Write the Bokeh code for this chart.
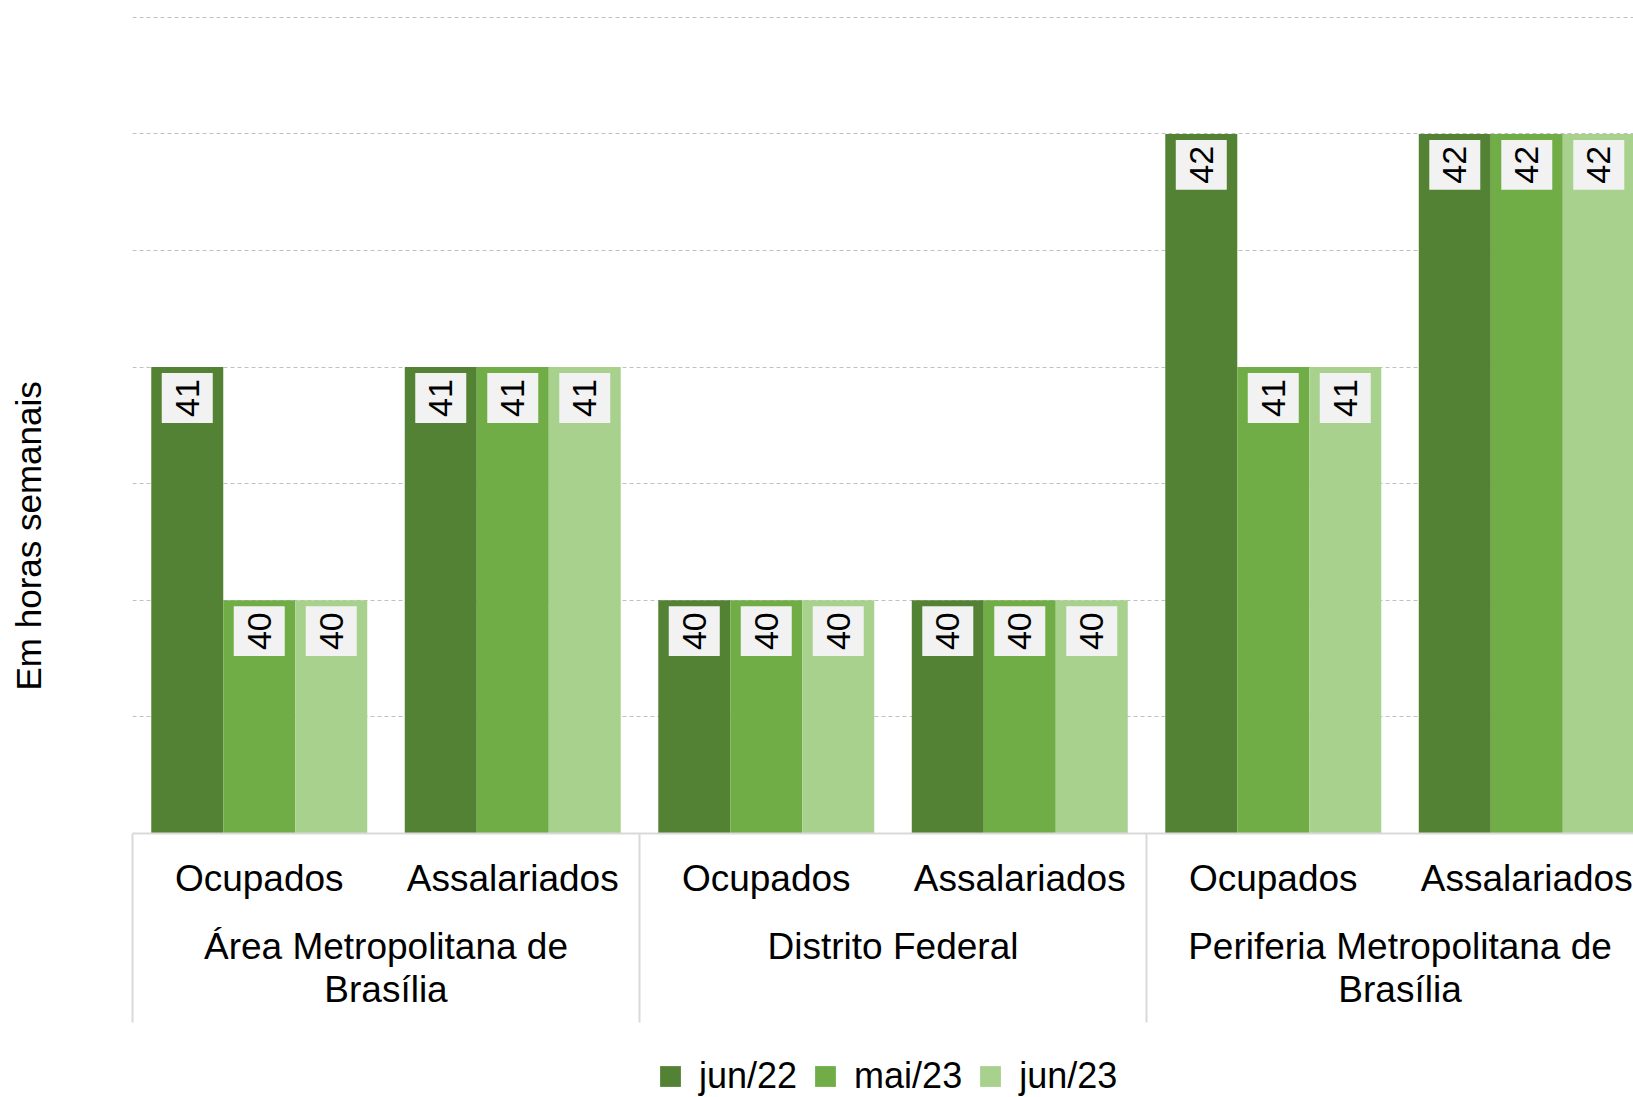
import numpy as np
from bokeh.plotting import figure
from bokeh.layouts import column
from bokeh.models import (Range1d, FixedTicker, LinearAxis, Legend, LegendItem,
                          ColumnDataSource, Grid, Title)
from bokeh.core.properties import value
from bokeh.embed import file_html
from bokeh.resources import INLINE

# ---- data ----
regions = ["Área Metropolitana de Brasília", "Distrito Federal",
           "Periferia Metropolitana de Brasília"]
groups = ["Ocupados", "Assalariados"]
series = ["jun/22", "mai/23", "jun/23"]
jun22 = [41, 41, 40, 40, 42, 42]
mai23 = [40, 41, 40, 40, 41, 42]
jun23 = [40, 41, 40, 40, 41, 42]
y_ticks = [39.5, 40, 40.5, 41, 41.5, 42, 42.5]
y_title = "Em horas semanais"
colors = ["#548235", "#70AD47", "#A9D18E"]

FONT = "Liberation Sans"
values = [jun22, mai23, jun23]
n_cat = len(regions) * len(groups)
cat_x = [i + 0.5 for i in range(n_cat)]
bar_w = 0.284
offsets = [-bar_w, 0.0, bar_w]
y_base = 39

p = figure(width=1633, height=1040, output_backend="svg", toolbar_location=None,
           x_range=Range1d(0, 5.921), y_range=Range1d(y_base, 42.572),
           x_axis_type=None, y_axis_type=None,
           min_border_left=132, min_border_right=0, min_border_top=0,
           min_border_bottom=207)
p.outline_line_color = None

# y axis (no visible ticks) + grid + title on the left
yticker = FixedTicker(ticks=y_ticks, minor_ticks=[])
yaxis = LinearAxis(ticker=yticker, axis_line_color=None,
                   major_tick_line_color=None, minor_tick_line_color=None,
                   major_tick_out=84, major_tick_in=0, major_label_standoff=0,
                   major_label_overrides={t: "" for t in y_ticks})
p.add_layout(yaxis, "left")
p.add_layout(Title(text=y_title, align="left", offset=143, vertical_align="middle",
                   standoff=0, text_font=FONT, text_font_size="35px",
                   text_font_style="normal", text_color="black"), "left")
p.add_layout(Grid(dimension=1, ticker=yticker, grid_line_color="#c0c0c0",
                  grid_line_dash="4 3", grid_line_width=1))

# bars + labels
for k, s in enumerate(series):
    src = ColumnDataSource(dict(
        x=[c + offsets[k] for c in cat_x],
        top=values[k],
        label=[str(v) for v in values[k]],
    ))
    p.vbar(x="x", top="top", bottom=y_base, width=bar_w, source=src,
           fill_color=colors[k], line_color=None)
    p.text(x="x", y="top", text="label", source=src, angle=np.pi / 2,
           text_align="right", text_baseline="middle",
           text_font=value(FONT), text_font_size="34px", text_color="black",
           y_offset=6, background_fill_color="#F2F2F2", padding=(6, 14))

# x axis: categories + separators (minor ticks)
ax1 = LinearAxis(ticker=FixedTicker(ticks=cat_x, minor_ticks=[0, 2, 4, 6]),
                 major_label_overrides={x: groups[i % 2] for i, x in enumerate(cat_x)},
                 axis_line_color="#d9d9d9", axis_line_width=2,
                 major_tick_line_color=None, major_tick_out=0, major_tick_in=0,
                 minor_tick_out=189, minor_tick_in=0, minor_tick_line_color="#d9d9d9",
                 minor_tick_line_width=2, major_label_standoff=-165,
                 major_label_text_font=FONT, major_label_text_font_size="37px",
                 major_label_text_color="black")
p.add_layout(ax1, "below")

region_x = [1.0, 3.0, 5.0]
ax2 = LinearAxis(ticker=FixedTicker(ticks=region_x, minor_ticks=[]),
                 major_label_overrides={x: regions[i].replace(" Brasília", "\nBrasília")
                                        for i, x in enumerate(region_x)},
                 axis_line_color=None, major_tick_line_color=None,
                 minor_tick_line_color=None, major_tick_out=0, major_tick_in=0,
                 major_label_standoff=24, major_label_text_line_height=1.065,
                 major_label_text_font=FONT, major_label_text_font_size="37px",
                 major_label_text_color="black")
p.add_layout(ax2, "below")

# legend strip (separate figure so the legend sits at the very bottom)
pl = figure(width=1633, height=57, output_backend="svg", toolbar_location=None,
            x_range=Range1d(0, 1), y_range=Range1d(0, 1),
            x_axis_type=None, y_axis_type=None,
            min_border_left=0, min_border_right=0, min_border_top=0,
            min_border_bottom=0)
pl.outline_line_color = None
proxies = [pl.vbar(x=[0.5], top=[0], bottom=0, width=0.1, fill_color=c, line_color=None)
           for c in colors]
legend = Legend(items=[LegendItem(label=s, renderers=[proxies[k]])
                       for k, s in enumerate(series)],
                location=(525, 0), orientation="horizontal",
                glyph_width=26, glyph_height=26, label_standoff=16, spacing=15,
                padding=0, margin=0, border_line_color=None,
                background_fill_alpha=0, label_text_font=FONT,
                label_text_font_size="36px", label_text_color="black")
pl.add_layout(legend)

open("out.html", "w").write(file_html(column(p, pl, spacing=0), INLINE))
